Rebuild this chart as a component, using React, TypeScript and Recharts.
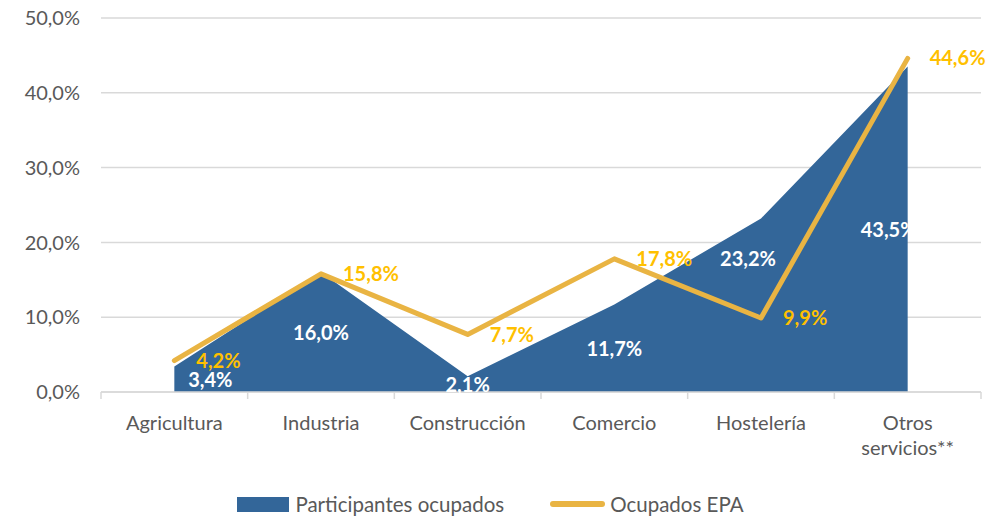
import React from "react";
import {
  ComposedChart,
  Area,
  Line,
  XAxis,
  YAxis,
  CartesianGrid,
  Legend,
  LabelList,
} from "recharts";

const categories = [
  "Agricultura",
  "Industria",
  "Construcción",
  "Comercio",
  "Hostelería",
  "Otros servicios**",
];
const participantes = [3.4, 16.0, 2.1, 11.7, 23.2, 43.5];
const ocupadosEPA = [4.2, 15.8, 7.7, 17.8, 9.9, 44.6];
const yTicks = [0, 10, 20, 30, 40, 50];

const WIDTH = 996;
const HEIGHT = 518;
const MARGIN = { top: 18, right: 15, left: 0, bottom: 0 };
const Y_AXIS_WIDTH = 101;
const X_AXIS_HEIGHT = 80;
const LEGEND_HEIGHT = 46;
const PLOT_BOTTOM = HEIGHT - MARGIN.bottom - LEGEND_HEIGHT - X_AXIS_HEIGHT;
const BAND = (WIDTH - MARGIN.left - MARGIN.right - Y_AXIS_WIDTH) / categories.length;

const BLUE = "#336699";
const GOLD = "#E9B443";
const LABEL_GOLD = "#FFC000";
const GREY_TEXT = "#595959";
const GRID = "#D9D9D9";
const FONT = "Lato, 'Noto Sans', sans-serif";

// small nudges for labels Excel moved by hand
const areaLabelNudge: Record<number, { dx: number; dy: number }> = {
  0: { dx: 36, dy: 0 },
  4: { dx: -13, dy: -47 },
  5: { dx: -19, dy: 0 },
};

const data = categories.map((name, i) => ({
  name,
  participantes: participantes[i],
  ocupados: ocupadosEPA[i],
}));

const fmt = (v: number) => v.toFixed(1).replace(".", ",") + "%";

const AreaLabel = (props: any) => {
  const { x, y, value, index } = props;
  const nudge = areaLabelNudge[index] || { dx: 0, dy: 0 };
  const mid = (y + PLOT_BOTTOM) / 2;
  return (
    <text
      x={x + nudge.dx}
      y={mid + nudge.dy}
      textAnchor="middle"
      dominantBaseline="central"
      fill="#FFFFFF"
      fontWeight="bold"
      fontSize={20}
      fontFamily={FONT}
    >
      {fmt(value)}
    </text>
  );
};

const CategoryTick = (props: any) => {
  const { x, y, payload, index } = props;
  const label: string = payload.value;
  const lines = label.length > 12 ? label.split(" ") : [label];
  return (
    <g>
      <line x1={x - BAND / 2} x2={x - BAND / 2} y1={y} y2={y + 7} stroke={GRID} strokeWidth={1.5} />
      {index === categories.length - 1 && (
        <line x1={x + BAND / 2} x2={x + BAND / 2} y1={y} y2={y + 7} stroke={GRID} strokeWidth={1.5} />
      )}
      <text
        x={x}
        y={y + 30}
        textAnchor="middle"
        dominantBaseline="central"
        fill={GREY_TEXT}
        fontSize={20}
        fontFamily={FONT}
      >
        {lines.map((l, i) => (
          <tspan key={i} x={x} dy={i === 0 ? 0 : 25}>
            {l}
          </tspan>
        ))}
      </text>
    </g>
  );
};

const LegendContent = () => (
  <div
    style={{
      display: "flex",
      justifyContent: "center",
      alignItems: "center",
      height: LEGEND_HEIGHT,
      paddingTop: 18,
      boxSizing: "border-box",
      fontFamily: FONT,
      fontSize: 20.5,
      color: GREY_TEXT,
    }}
  >
    <span style={{ display: "inline-block", width: 52, height: 15, background: BLUE, marginRight: 6 }} />
    <span style={{ marginRight: 46 }}>Participantes ocupados</span>
    <span
      style={{
        display: "inline-block",
        width: 55,
        height: 6,
        borderRadius: 3,
        background: GOLD,
        marginRight: 5,
      }}
    />
    <span>Ocupados EPA</span>
  </div>
);

export default function App() {
  return (
    <div style={{ width: WIDTH, height: HEIGHT }}>
      <style>{`body{margin:0}`}</style>
      <ComposedChart width={WIDTH} height={HEIGHT} data={data} margin={MARGIN}>
        <CartesianGrid vertical={false} stroke={GRID} strokeWidth={1.5} />
        <XAxis
          dataKey="name"
          interval={0}
          height={X_AXIS_HEIGHT}
          padding={{ left: BAND / 2, right: BAND / 2 }}
          tickSize={0}
          tickMargin={0}
          axisLine={{ stroke: GRID, strokeWidth: 1.5 }}
          tick={<CategoryTick />}
        />
        <YAxis
          width={Y_AXIS_WIDTH}
          domain={[0, 50]}
          ticks={yTicks}
          tickFormatter={fmt}
          axisLine={false}
          tickLine={false}
          tickSize={0}
          tickMargin={21}
          tick={{ fill: GREY_TEXT, fontSize: 20, fontFamily: FONT }}
        />
        <Legend verticalAlign="bottom" height={LEGEND_HEIGHT} content={<LegendContent />} />
        <Area
          type="linear"
          dataKey="participantes"
          name="Participantes ocupados"
          fill={BLUE}
          fillOpacity={1}
          stroke="none"
          isAnimationActive={false}
        >
          <LabelList dataKey="participantes" content={<AreaLabel />} />
        </Area>
        <Line
          type="linear"
          dataKey="ocupados"
          name="Ocupados EPA"
          stroke={GOLD}
          strokeWidth={5}
          strokeLinecap="round"
          strokeLinejoin="round"
          dot={false}
          isAnimationActive={false}
        >
          <LabelList
            dataKey="ocupados"
            position="right"
            offset={22}
            formatter={(v: any) => fmt(Number(v))}
            fill={LABEL_GOLD}
            fontWeight="bold"
            fontSize={20}
            fontFamily={FONT}
          />
        </Line>
      </ComposedChart>
    </div>
  );
}
